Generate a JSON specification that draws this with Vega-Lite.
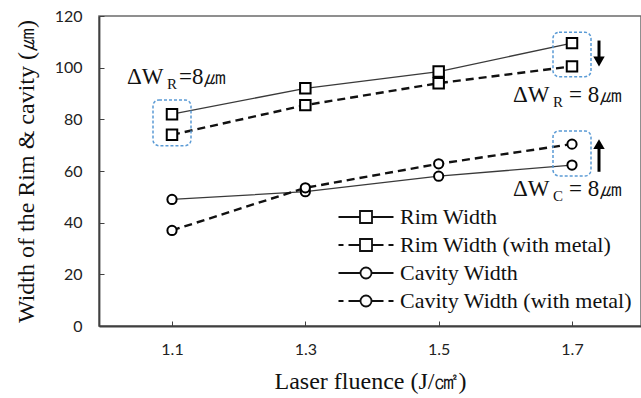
{
  "$schema": "https://vega.github.io/schema/vega-lite/v6.json",
  "width": 542,
  "height": 310,
  "autosize": "none",
  "padding": {"left": 99, "top": 16, "right": 0, "bottom": 72},
  "background": "white",
  "config": {
    "view": {"stroke": "#6b6b6b", "strokeWidth": 1.5},
    "axis": {
      "grid": false,
      "domainColor": "#404040",
      "domainWidth": 1.8,
      "tickColor": "#404040",
      "tickWidth": 1,
      "tickSize": -5,
      "labelFont": "Lato",
      "labelFontSize": 16,
      "labelColor": "#222222",
      "titleFont": "Liberation Serif",
      "titleFontSize": 24,
      "titleFontWeight": "normal",
      "titleColor": "#111111"
    },
    "text": {"font": "Liberation Serif", "color": "#111111"}
  },
  "datasets": {
    "widths": [
      {"fluence": 1.1, "series": "Rim Width", "width": 82},
      {"fluence": 1.3, "series": "Rim Width", "width": 92},
      {"fluence": 1.5, "series": "Rim Width", "width": 98.5},
      {"fluence": 1.7, "series": "Rim Width", "width": 109.5},
      {"fluence": 1.1, "series": "Rim Width (with metal)", "width": 74},
      {"fluence": 1.3, "series": "Rim Width (with metal)", "width": 85.5},
      {"fluence": 1.5, "series": "Rim Width (with metal)", "width": 94},
      {"fluence": 1.7, "series": "Rim Width (with metal)", "width": 100.5},
      {"fluence": 1.1, "series": "Cavity Width", "width": 49},
      {"fluence": 1.3, "series": "Cavity Width", "width": 52},
      {"fluence": 1.5, "series": "Cavity Width", "width": 58},
      {"fluence": 1.7, "series": "Cavity Width", "width": 62.3},
      {"fluence": 1.1, "series": "Cavity Width (with metal)", "width": 37},
      {"fluence": 1.3, "series": "Cavity Width (with metal)", "width": 53.5},
      {"fluence": 1.5, "series": "Cavity Width (with metal)", "width": 62.8},
      {"fluence": 1.7, "series": "Cavity Width (with metal)", "width": 70.4}
    ],
    "boxes": [
      {"fluence": 1.1, "width": 69.8, "top": 87.5},
      {"fluence": 1.7, "width": 96.5, "top": 113.7},
      {"fluence": 1.7, "width": 58.1, "top": 75.5}
    ],
    "arrowDown": [{"fluence": 1.7, "width": 110.5, "top": 103.5, "head": 102.4}],
    "arrowUp": [{"fluence": 1.7, "width": 59.7, "top": 69, "head": 70.4}],
    "noteLeft": [{"fluence": 1.1, "width": 93.6, "main": "ΔW", "sub": "R", "tail": "=8㎛"}],
    "noteRight": [
      {"fluence": 1.7, "width": 86.7, "main": "ΔW", "sub": "R", "tail": "= 8㎛"},
      {"fluence": 1.7, "width": 50.2, "main": "ΔW", "sub": "C", "tail": "= 8㎛"}
    ]
  },
  "layer": [
    {
      "data": {"name": "widths"},
      "transform": [{"filter": "indexof(datum.series, 'metal') < 0"}],
      "mark": {"type": "line", "stroke": "#3a3a3a", "strokeWidth": 1.3},
      "encoding": {
        "x": {
          "field": "fluence",
          "type": "quantitative",
          "scale": {"domain": [0.998, 1.796], "nice": false, "zero": false},
          "axis": {"values": [1.1, 1.3, 1.5, 1.7], "format": ".1f", "labelPadding": 20, "title": "Laser fluence (J/㎠)", "titlePadding": 12}
        },
        "y": {
          "field": "width",
          "type": "quantitative",
          "scale": {"domain": [0, 120], "nice": false},
          "axis": {"values": [0, 20, 40, 60, 80, 100, 120], "labelPadding": 22, "title": "Width of the Rim & cavity (㎛)", "titlePadding": 16}
        },
        "detail": {"field": "series", "type": "nominal"}
      }
    },
    {
      "data": {"name": "widths"},
      "transform": [{"filter": "indexof(datum.series, 'metal') >= 0"}],
      "mark": {"type": "line", "stroke": "#111111", "strokeWidth": 2.4, "strokeDash": [8, 5]},
      "encoding": {
        "x": {"field": "fluence", "type": "quantitative"},
        "y": {"field": "width", "type": "quantitative"},
        "detail": {"field": "series", "type": "nominal"}
      }
    },
    {
      "data": {"name": "widths"},
      "transform": [{"filter": "indexof(datum.series, 'Rim') >= 0"}],
      "mark": {"type": "point", "shape": "square", "filled": true, "fill": "white", "stroke": "black", "strokeWidth": 2, "opacity": 1, "size": 110},
      "encoding": {
        "x": {"field": "fluence", "type": "quantitative"},
        "y": {"field": "width", "type": "quantitative"}
      }
    },
    {
      "data": {"name": "widths"},
      "transform": [{"filter": "indexof(datum.series, 'Cavity') >= 0"}],
      "mark": {"type": "point", "shape": "circle", "filled": true, "fill": "white", "stroke": "black", "strokeWidth": 2, "opacity": 1, "size": 85},
      "encoding": {
        "x": {"field": "fluence", "type": "quantitative"},
        "y": {"field": "width", "type": "quantitative"}
      }
    },
    {
      "data": {"name": "widths"},
      "mark": {"type": "point", "filled": false, "stroke": "#111111", "strokeWidth": 1.8, "opacity": 0, "size": 100},
      "encoding": {
        "x": {"field": "fluence", "type": "quantitative"},
        "y": {"field": "width", "type": "quantitative"},
        "shape": {
          "field": "series",
          "type": "nominal",
          "scale": {
            "domain": ["Rim Width", "Rim Width (with metal)", "Cavity Width", "Cavity Width (with metal)"],
            "range": [
              "M-5.5,0H-1.2M1.2,0H5.5M-1.2,-1.2H1.2V1.2H-1.2Z",
              "M-5.5,0H-4.5M-3.5,0H-1.2M1.2,0H3.5M4.5,0H5.5M-1.2,-1.2H1.2V1.2H-1.2Z",
              "M-5.5,0H-1.1M1.1,0H5.5M1.1,0A1.1,1.1 0 1,1 -1.1,0A1.1,1.1 0 1,1 1.1,0Z",
              "M-5.5,0H-4.5M-3.5,0H-1.1M1.1,0H3.5M4.5,0H5.5M1.1,0A1.1,1.1 0 1,1 -1.1,0A1.1,1.1 0 1,1 1.1,0Z"
            ]
          },
          "legend": {
            "title": null,
            "orient": "none",
            "legendX": 256,
            "legendY": 190,
            "padding": 0,
            "symbolSize": 100,
            "symbolStrokeColor": "#111111",
            "symbolStrokeWidth": 1.8,
            "symbolFillColor": "white",
            "symbolOpacity": 1,
            "labelOffset": 23,
            "rowPadding": 6,
            "labelFont": "Liberation Serif",
            "labelFontSize": 22,
            "labelColor": "#111111",
            "labelLimit": 400,
            "encode": {
              "symbols": {
                "update": {
                  "fill": {"value": "white"},
                  "stroke": {"value": "#111111"},
                  "strokeWidth": {"value": 1.8},
                  "opacity": {"value": 1}
                }
              }
            }
          }
        }
      }
    },
    {
      "data": {"name": "boxes"},
      "mark": {"type": "bar", "width": 38, "cornerRadius": 6, "fill": "transparent", "stroke": "#5b9bd5", "strokeWidth": 1.5, "strokeDash": [3, 2]},
      "encoding": {
        "x": {"field": "fluence", "type": "quantitative"},
        "y": {"field": "width", "type": "quantitative"},
        "y2": {"field": "top"}
      }
    },
    {
      "data": {"name": "arrowDown"},
      "mark": {"type": "rule", "color": "black", "strokeWidth": 3, "xOffset": 27},
      "encoding": {
        "x": {"field": "fluence", "type": "quantitative"},
        "y": {"field": "width", "type": "quantitative"},
        "y2": {"field": "top"}
      }
    },
    {
      "data": {"name": "arrowDown"},
      "mark": {"type": "point", "shape": "triangle-down", "filled": true, "color": "black", "opacity": 1, "size": 130, "xOffset": 27},
      "encoding": {
        "x": {"field": "fluence", "type": "quantitative"},
        "y": {"field": "head", "type": "quantitative"}
      }
    },
    {
      "data": {"name": "arrowUp"},
      "mark": {"type": "rule", "color": "black", "strokeWidth": 3, "xOffset": 27},
      "encoding": {
        "x": {"field": "fluence", "type": "quantitative"},
        "y": {"field": "width", "type": "quantitative"},
        "y2": {"field": "top"}
      }
    },
    {
      "data": {"name": "arrowUp"},
      "mark": {"type": "point", "shape": "triangle-up", "filled": true, "color": "black", "opacity": 1, "size": 130, "xOffset": 27},
      "encoding": {
        "x": {"field": "fluence", "type": "quantitative"},
        "y": {"field": "head", "type": "quantitative"}
      }
    },
    {
      "data": {"name": "noteLeft"},
      "mark": {"type": "text", "align": "left", "baseline": "alphabetic", "fontSize": 23, "dx": -45},
      "encoding": {
        "x": {"field": "fluence", "type": "quantitative"},
        "y": {"field": "width", "type": "quantitative"},
        "text": {"field": "main"}
      }
    },
    {
      "data": {"name": "noteLeft"},
      "mark": {"type": "text", "align": "left", "baseline": "alphabetic", "fontSize": 15, "dx": -5, "dy": 5},
      "encoding": {
        "x": {"field": "fluence", "type": "quantitative"},
        "y": {"field": "width", "type": "quantitative"},
        "text": {"field": "sub"}
      }
    },
    {
      "data": {"name": "noteLeft"},
      "mark": {"type": "text", "align": "left", "baseline": "alphabetic", "fontSize": 23, "dx": 7},
      "encoding": {
        "x": {"field": "fluence", "type": "quantitative"},
        "y": {"field": "width", "type": "quantitative"},
        "text": {"field": "tail"}
      }
    },
    {
      "data": {"name": "noteRight"},
      "mark": {"type": "text", "align": "left", "baseline": "alphabetic", "fontSize": 23, "dx": -59},
      "encoding": {
        "x": {"field": "fluence", "type": "quantitative"},
        "y": {"field": "width", "type": "quantitative"},
        "text": {"field": "main"}
      }
    },
    {
      "data": {"name": "noteRight"},
      "mark": {"type": "text", "align": "left", "baseline": "alphabetic", "fontSize": 15, "dx": -19, "dy": 5},
      "encoding": {
        "x": {"field": "fluence", "type": "quantitative"},
        "y": {"field": "width", "type": "quantitative"},
        "text": {"field": "sub"}
      }
    },
    {
      "data": {"name": "noteRight"},
      "mark": {"type": "text", "align": "left", "baseline": "alphabetic", "fontSize": 23, "dx": -3},
      "encoding": {
        "x": {"field": "fluence", "type": "quantitative"},
        "y": {"field": "width", "type": "quantitative"},
        "text": {"field": "tail"}
      }
    }
  ]
}
